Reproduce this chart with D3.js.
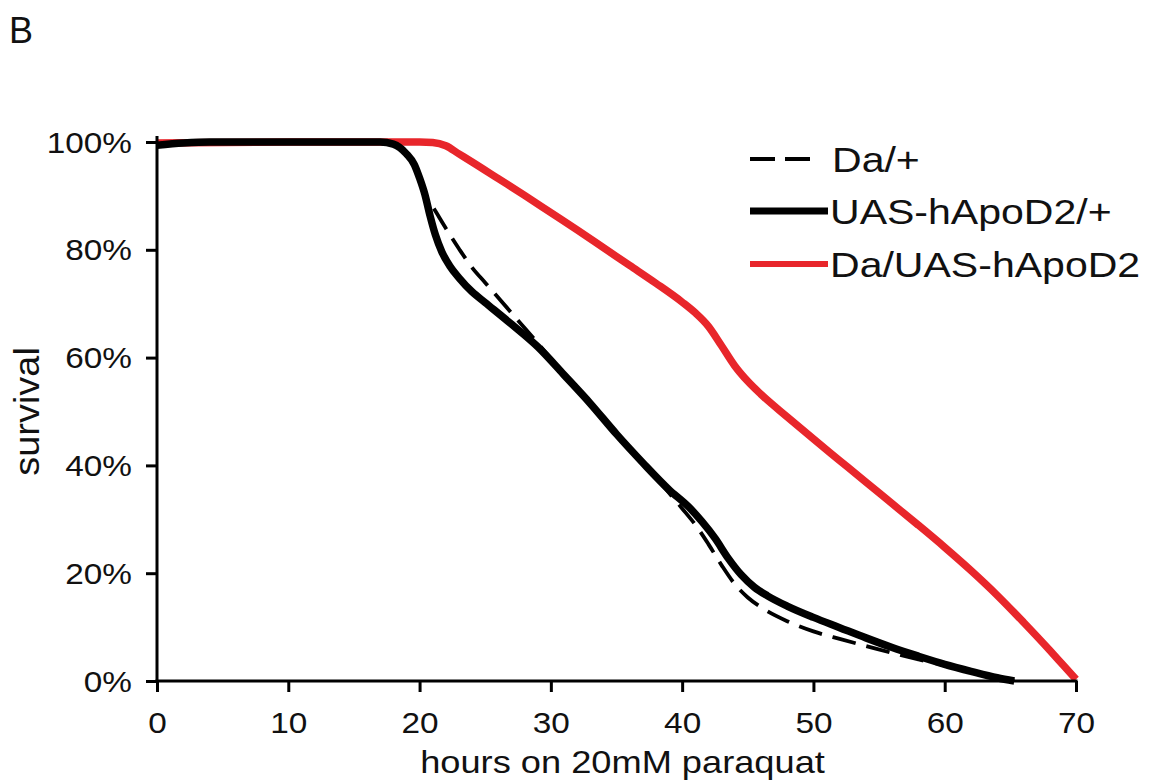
<!DOCTYPE html>
<html>
<head>
<meta charset="utf-8">
<script src="https://cdn.jsdelivr.net/npm/d3@7"></script>
<style>
  html, body { margin: 0; padding: 0; background: #ffffff; }
  svg { display: block; font-family: "Liberation Sans", Arial, Helvetica, sans-serif; }
</style>
</head>
<body>
<svg id="chart" width="1154" height="782"></svg>
<script>
// ---- data (hours on paraquat, % survival) ----
const xTicks = [0, 10, 20, 30, 40, 50, 60, 70];
const yTicks = [0, 20, 40, 60, 80, 100];
const yTickLabels = ["0%", "20%", "40%", "60%", "80%", "100%"];
const seriesNames = ["Da/+", "UAS-hApoD2/+", "Da/UAS-hApoD2"];

const daHours = [0, 2, 4, 17, 18, 19, 19.6, 20, 20.4, 21, 22, 23, 24, 25, 27, 29, 31, 33, 35, 37, 38.5, 40, 41, 42, 43, 44, 45, 46, 48, 50, 52, 54, 56, 58, 60, 62, 64, 65.3];
const daSurv  = [99.4, 99.8, 100, 100, 99.6, 97.8, 95.8, 93.3, 90.3, 88, 84, 80.2, 76.7, 73.9, 68.3, 62.7, 56.9, 51.2, 45.6, 40.3, 36.3, 32, 29, 25.4, 21.5, 18, 15.5, 13.7, 11.1, 9.2, 7.8, 6.5, 5.2, 4, 2.9, 1.7, 0.6, 0];

const uasHours = [0, 2, 4, 17, 18, 19, 19.6, 20, 20.4, 20.8, 21.2, 21.7, 22.3, 23, 24, 25, 27, 29, 31, 33, 35, 37, 39, 40.5, 41.5, 42.5, 43.5, 44.5, 45.5, 46.5, 48, 50, 52, 54, 56, 58, 60, 62, 64, 65.3];
const uasSurv  = [99.4, 99.8, 100, 100, 99.6, 97.8, 95.8, 93.3, 90.3, 86.3, 82.8, 79.6, 77, 74.8, 72.2, 70.2, 66.2, 62, 56.8, 51.5, 45.8, 40.5, 35.5, 32.3, 29.6, 26.5, 22.8, 19.7, 17.4, 15.8, 13.9, 11.8, 9.9, 8.0, 6.2, 4.6, 3.1, 1.8, 0.6, 0];

const apoHours = [0, 10, 20, 21, 22, 23, 24, 26, 28, 30, 32, 34, 36, 38, 40, 41, 42, 43, 44, 45, 46, 48, 50, 52, 54, 56, 58, 60, 62, 64, 66, 68, 69, 70];
const apoSurv  = [99.8, 100, 100, 99.9, 99.3, 97.8, 96.3, 93.2, 90.1, 86.9, 83.7, 80.4, 77.1, 73.8, 70.3, 68.3, 65.8, 62.2, 58.5, 55.6, 53.2, 49.0, 44.9, 40.9, 36.9, 32.9, 28.9, 24.8, 20.5, 15.9, 10.9, 5.7, 3.0, 0.3];

// ---- layout ----
const svg = d3.select("#chart");
const x = d3.scaleLinear().domain([0, 70]).range([157, 1076]);
const y = d3.scaleLinear().domain([0, 100]).range([681, 142]);
const red = "#e8262b";
const SX = 1.15;

// panel label
svg.append("text").attr("x", 9).attr("y", 43)
  .attr("font-size", 36).attr("fill", "#111").text("B");

// curves
const line = d3.line().x(d => x(d[0])).y(d => y(d[1])).curve(d3.curveMonotoneX);
const zip = (a, b) => a.map((v, i) => [v, b[i]]);

svg.append("path").datum(zip(apoHours, apoSurv))
  .attr("d", line).attr("fill", "none").attr("stroke", red)
  .attr("stroke-width", 7.5).attr("stroke-linejoin", "round");
svg.append("path").datum(zip(uasHours, uasSurv))
  .attr("d", line).attr("fill", "none").attr("stroke", "#000")
  .attr("stroke-width", 7.5).attr("stroke-linejoin", "round");
svg.append("path").datum(zip(daHours, daSurv))
  .attr("d", line).attr("fill", "none").attr("stroke", "#000")
  .attr("stroke-width", 3.8).attr("stroke-dasharray", "24,11");

// axes
const yAxis = svg.append("g").attr("transform", `translate(${x(0)},0)`)
  .call(d3.axisLeft(y).tickValues(yTicks).tickSize(11).tickSizeOuter(0)
    .tickFormat((d, i) => yTickLabels[i]));
const xAxis = svg.append("g").attr("transform", `translate(0,${y(0)})`)
  .call(d3.axisBottom(x).tickValues(xTicks).tickSize(11).tickSizeOuter(0));

[yAxis, xAxis].forEach(g => {
  g.select(".domain").remove();
  g.selectAll(".tick line").attr("stroke", "#000").attr("stroke-width", 3);
  g.selectAll(".tick text").attr("fill", "#111").attr("font-size", 29)
    .attr("font-family", '"Liberation Sans", Arial, sans-serif');
});
// axis lines
svg.append("line").attr("x1", x(0)).attr("x2", x(0)).attr("y1", y(100) - 6).attr("y2", y(0) + 1.5)
  .attr("stroke", "#000").attr("stroke-width", 3);
svg.append("line").attr("x1", x(0) - 1.5).attr("x2", x(70) + 1.5).attr("y1", y(0)).attr("y2", y(0))
  .attr("stroke", "#000").attr("stroke-width", 3);

yAxis.selectAll(".tick text")
  .attr("x", null).attr("dy", null)
  .attr("transform", `translate(-25,10) scale(${SX},1)`)
  .attr("text-anchor", "end");
xAxis.selectAll(".tick text")
  .attr("y", null).attr("dy", null)
  .attr("transform", `translate(0,52) scale(${SX},1)`)
  .attr("text-anchor", "middle");

// axis titles
svg.append("text")
  .attr("transform", `translate(${(x(0) + x(70)) / 2 + 6},773) scale(${SX},1)`)
  .attr("text-anchor", "middle").attr("font-size", 31.5).attr("fill", "#111")
  .text("hours on 20mM paraquat");
svg.append("text")
  .attr("transform", `translate(39,${(y(0) + y(100)) / 2}) rotate(-90) scale(1.15,1.05)`)
  .attr("text-anchor", "middle").attr("font-size", 33).attr("fill", "#111")
  .text("survival");

// legend
const legY = [159, 211, 264];
const legStyles = [
  { stroke: "#000", w: 4, dash: "25,10" },
  { stroke: "#000", w: 7, dash: null },
  { stroke: red, w: 6, dash: null }
];
const leg = svg.append("g");
seriesNames.forEach((name, i) => {
  const st = legStyles[i];
  const l = leg.append("line").attr("x1", 750).attr("x2", i === 0 ? 810 : 828)
    .attr("y1", legY[i]).attr("y2", legY[i])
    .attr("stroke", st.stroke).attr("stroke-width", st.w);
  if (st.dash) l.attr("stroke-dasharray", st.dash);
  leg.append("text")
    .attr("transform", `translate(${i === 0 ? 832 : 830},${legY[i] + 13}) scale(1.14,1)`)
    .attr("font-size", 36).attr("fill", "#111").text(name);
});
</script>
</body>
</html>
